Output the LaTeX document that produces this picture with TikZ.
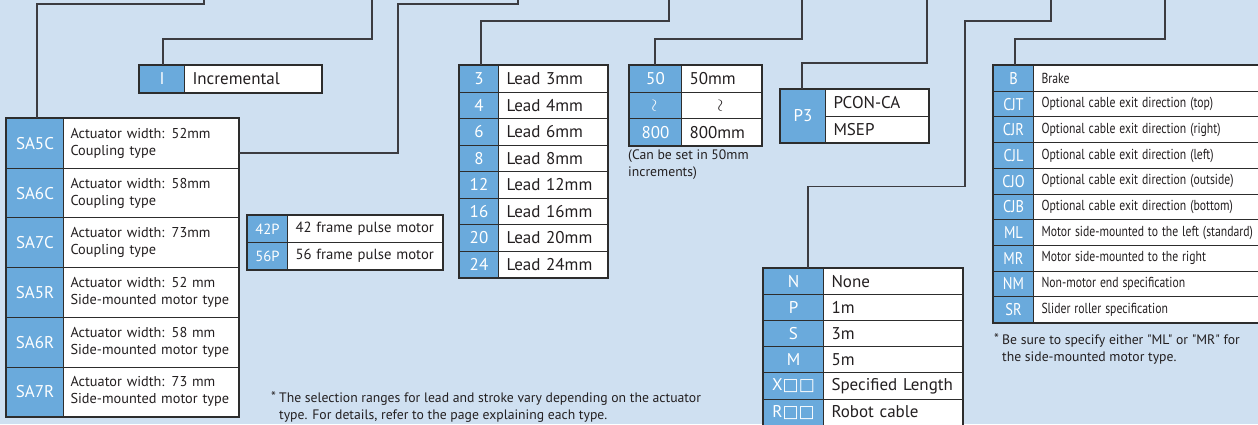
\documentclass[tikz,border=0pt]{standalone}
\usepackage{fontspec}
\setmainfont{PT Sans}
\newfontfamily\plainfont{PT Sans}
\newfontfamily\symfont{DejaVu Sans}
\definecolor{bg}{RGB}{207,224,241}
\definecolor{keyb}{RGB}{106,170,220}
\definecolor{bord}{RGB}{45,45,45}
\definecolor{lin}{RGB}{60,60,65}
\definecolor{ink}{RGB}{35,31,32}
\newcommand\bigfont{\fontsize{17}{20}\selectfont}
\newcommand\safont{\fontsize{14.3}{17}\selectfont}
\newcommand\pmfont{\fontsize{14.7}{17}\selectfont}
\newcommand\opfont{\fontsize{14.5}{17}\selectfont}
\newcommand\notefont{\plainfont\fontsize{13.7}{16.5}\selectfont}
\newcommand\wavy{\rotatebox{90}{$\sim$}}
\newcommand\sqq{{\symfont\fontsize{17}{17}\selectfont □□}}
\newcommand\cond[1]{\scalebox{0.807}[1]{#1}}
\newcommand\condk[1]{\scalebox{0.85}[1]{#1}}
\newcommand\oneline[1]{\mbox{#1}}
\newcommand\notestar{\makebox[8pt][l]{\raisebox{1.5pt}{*}}}
\begin{document}
\begin{tikzpicture}[x=1pt,y=-1pt,
  every node/.style={inner sep=0pt},
  keyc/.style={draw=bord, line width=1pt, fill=keyb, text=white, anchor=north west, font=\bigfont},
  txtc/.style={draw=bord, line width=1pt, fill=white, text=ink, anchor=north west, inner xsep=8pt, align=left, font=\bigfont},
  outer/.style={draw=bord, line width=1.8pt},
  conn/.style={draw=lin, line width=1.3pt},
  note/.style={anchor=north west, align=left, text=ink, font=\notefont}]
\fill[bg] (0,0) rectangle (1258,424);
\useasboundingbox (0,0) rectangle (1258,424);

% Incremental
\node[keyc, minimum width=45, minimum height=27] (Ik) at (139,65) {I};
\node[txtc, text width=121, minimum height=27] (It) at (184,65) {Incremental};
\draw[outer] (Ik.north west) rectangle (It.south east);

% SA table
\foreach \k/\t [count=\i] in {SA5C/{\oneline{Actuator width: 52mm}\\\oneline{Coupling type}},
  SA6C/{\oneline{Actuator width: 58mm}\\\oneline{Coupling type}},
  SA7C/{\oneline{Actuator width: 73mm}\\\oneline{Coupling type}},
  SA5R/{\oneline{Actuator width: 52 mm}\\\oneline{Side-mounted motor type}},
  SA6R/{\oneline{Actuator width: 58 mm}\\\oneline{Side-mounted motor type}},
  SA7R/{\oneline{Actuator width: 73 mm}\\\oneline{Side-mounted motor type}}}{
  \node[keyc, minimum width=57, minimum height=49.7] (sak\i) at (6,{118+(\i-1)*49.7}) {\k};
  \node[txtc, text width=161, inner xsep=7pt, minimum height=49.7, font=\safont] (sat\i) at (63,{118+(\i-1)*49.7}) {\t};
}
\draw[outer] (sak1.north west) rectangle (sat6.south east);

% pulse motor
\foreach \k/\t [count=\i] in {42P/42 frame pulse motor, 56P/56 frame pulse motor}{
  \node[keyc, minimum width=40, minimum height=27, font=\pmfont] (pmk\i) at (247,{215+(\i-1)*27}) {\k};
  \node[txtc, text width=139, minimum height=27, font=\pmfont] (pmt\i) at (287,{215+(\i-1)*27}) {\t};
}
\draw[outer] (pmk1.north west) rectangle (pmt2.south east);

% lead
\foreach \k [count=\i] in {3,4,6,8,12,16,20,24}{
  \node[keyc, minimum width=39, minimum height=26.5] (ldk\i) at (459,{65+(\i-1)*26.5}) {\k};
  \node[txtc, text width=93, minimum height=26.5] (ldt\i) at (498,{65+(\i-1)*26.5}) {Lead \k mm};
}
\draw[outer] (ldk1.north west) rectangle (ldt8.south east);

% stroke
\node[keyc, minimum width=52, minimum height=26.7] (stk1) at (629,65) {50};
\node[txtc, text width=64, minimum height=26.7] (stt1) at (681,65) {50mm};
\node[keyc, minimum width=52, minimum height=26.7] (stk2) at (629,91.7) {\wavy};
\node[txtc, text width=64, minimum height=26.7, align=center] (stt2) at (681,91.7) {\wavy};
\node[keyc, minimum width=52, minimum height=26.7] (stk3) at (629,118.4) {800};
\node[txtc, text width=64, minimum height=26.7] (stt3) at (681,118.4) {800mm};
\draw[outer] (stk1.north west) rectangle (stt3.south east);
\node[note] (stn) at (628,150) {(Can be set in 50mm\\increments)};

% controller
\node[keyc, minimum width=45, minimum height=53] (p3k) at (780,89) {P3};
\node[txtc, text width=87, minimum height=26.5] (p3t1) at (825,89) {PCON-CA};
\node[txtc, text width=87, minimum height=26.5] (p3t2) at (825,115.5) {MSEP};
\draw[outer] (p3k.north west) rectangle (p3t2.south east);

% cable
\foreach \k/\t [count=\i] in {N/None, P/1m, S/3m, M/5m, X\sqq/Specified Length, R\sqq/Robot cable}{
  \node[keyc, minimum width=60, minimum height=26.1] (cbk\i) at (763,{268+(\i-1)*26.1}) {\k};
  \node[txtc, text width=123, minimum height=26.1] (cbt\i) at (823,{268+(\i-1)*26.1}) {\t};
}
\draw[outer] (cbk1.north west) rectangle (cbt6.south east);

% options
\foreach \k/\t [count=\i] in {B/Brake,
  CJT/Optional cable exit direction (top),
  CJR/Optional cable exit direction (right),
  CJL/Optional cable exit direction (left),
  CJO/Optional cable exit direction (outside),
  CJB/Optional cable exit direction (bottom),
  ML/Motor side-mounted to the left (standard),
  MR/Motor side-mounted to the right,
  NM/Non-motor end specification,
  SR/Slider roller specification}{
  \node[keyc, minimum width=40, minimum height=25.7] (opk\i) at (993,{65+(\i-1)*25.7}) {\condk{\k}};
  \node[txtc, text width=248, minimum height=25.7, font=\opfont] (opt\i) at (1033,{65+(\i-1)*25.7}) {\cond{\t}};
}
\draw[outer] (opk1.north west) rectangle (opt10.south east);

% notes
\node[note] (n1) at (271,391) {\notestar The selection ranges for lead and stroke vary depending on the actuator\\\hspace*{8pt}type. For details, refer to the page explaining each type.};
\node[note] (n2) at (994,333) {\notestar Be sure to specify either "ML" or "MR" for\\\hspace*{8pt}the side-mounted motor type.};

% connectors
\coordinate (a1) at (204,0); \coordinate (b1) at (37,4);
\draw[conn] (a1) |- (b1) -- (b1 |- sak1.north);
\coordinate (a2) at (372,0); \coordinate (b2) at (163,39);
\draw[conn] (a2) |- (b2) -- (b2 |- Ik.north);
\coordinate (a3) at (518,0); \coordinate (b3) at (398,4); \coordinate (c3) at (398,153);
\draw[conn] (a3) |- (b3) -- (c3) -- (c3 -| sat1.east);
\coordinate (a4) at (669,0); \coordinate (b4) at (481,21);
\draw[conn] (a4) |- (b4) -- (b4 |- ldk1.north);
\coordinate (a5) at (802,0); \coordinate (b5) at (655,39);
\draw[conn] (a5) |- (b5) -- (b5 |- stk1.north);
\coordinate (a6) at (927,0); \coordinate (b6) at (802,63);
\draw[conn] (a6) |- (b6) -- (b6 |- p3k.north);
\coordinate (a7) at (1051,0); \coordinate (b7) at (965,21); \coordinate (c7) at (808,186.5);
\draw[conn] (a7) |- (b7) |- (c7) -- (c7 |- cbk1.north);
\coordinate (a8) at (1165,0); \coordinate (b8) at (1015,39);
\draw[conn] (a8) |- (b8) -- (b8 |- opk1.north);
\end{tikzpicture}
\end{document}
